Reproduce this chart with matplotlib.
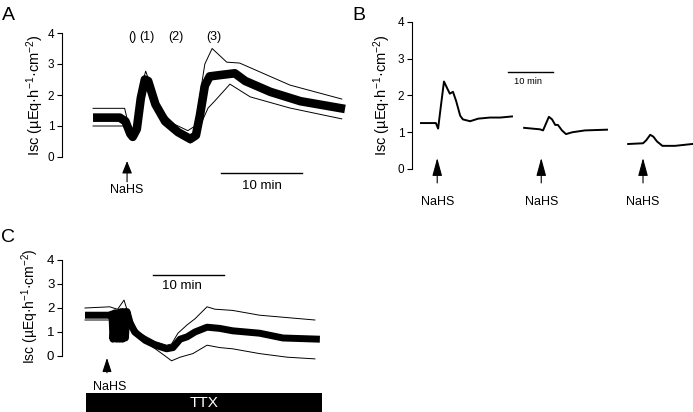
import matplotlib
matplotlib.use("Agg")
import matplotlib.pyplot as plt
from matplotlib.patches import Rectangle

plt.rcParams['font.family'] = ['Liberation Sans', 'DejaVu Sans']
plt.rcParams['mathtext.default'] = 'regular'

# ---------------- data (time in min, Isc in uEq/h/cm2) ----------------
a_mean_t = [0.0, 3.3, 4.0, 4.6, 4.9, 5.4, 5.9, 6.4, 6.8, 7.7, 8.9, 10.5, 12.0, 12.7, 13.2, 13.8, 14.4, 15.9, 17.5, 18.8, 21.9, 25.6, 31.1]
a_mean_v = [1.27, 1.27, 1.15, 0.75, 0.65, 0.9, 1.9, 2.5, 2.45, 1.7, 1.15, 0.8, 0.58, 0.7, 1.35, 2.3, 2.6, 2.65, 2.7, 2.45, 2.1, 1.8, 1.55]
a_up_t = [0.0, 3.9, 4.6, 5.0, 5.6, 6.0, 6.5, 7.0, 8.3, 10.1, 11.7, 12.6, 13.2, 13.8, 14.7, 16.5, 18.1, 24.3, 30.7]
a_up_v = [1.57, 1.57, 0.8, 0.62, 1.2, 2.3, 2.77, 2.4, 1.5, 1.05, 0.85, 1.0, 2.0, 3.0, 3.5, 3.06, 3.03, 2.32, 1.87]
a_lo_t = [0.0, 3.9, 4.6, 5.0, 5.6, 6.0, 6.5, 7.0, 8.3, 10.1, 12.0, 12.7, 13.2, 14.2, 15.0, 16.9, 19.4, 24.3, 30.7]
a_lo_v = [1.0, 1.0, 0.7, 0.6, 0.85, 1.8, 2.5, 2.2, 1.35, 0.85, 0.45, 0.6, 1.0, 1.58, 1.8, 2.35, 1.94, 1.58, 1.23]
a_phase_labels = ['()', '(1)', '(2)', '(3)']
a_phase_t = [4.9, 6.6, 10.2, 14.9]

b1_t = [0.0, 3.3, 3.8, 4.4, 5.1, 5.8, 6.4, 7.1, 7.8, 8.7, 9.3, 10.9, 12.7, 15.3, 17.6, 20.2]
b1_v = [1.25, 1.25, 1.1, 1.7, 2.38, 2.2, 2.05, 2.1, 1.85, 1.45, 1.35, 1.3, 1.37, 1.4, 1.4, 1.43]
b2_t = [22.9, 26.4, 27.1, 27.8, 28.4, 29.1, 29.8, 30.4, 31.3, 32.2, 33.6, 36.4, 41.3]
b2_v = [1.12, 1.08, 1.05, 1.25, 1.42, 1.35, 1.2, 1.2, 1.05, 0.95, 1.0, 1.05, 1.07]
b3_t = [46.0, 49.3, 50.0, 50.9, 51.6, 52.4, 53.6, 56.4, 60.2]
b3_v = [0.68, 0.7, 0.78, 0.93, 0.88, 0.75, 0.63, 0.63, 0.68]
b_arrow_t = [3.6, 26.7, 49.3]

c_mean_t = [0.0, 3.5, 3.8, 3.94, 4.23, 4.44, 4.65, 4.86, 5.07, 5.28, 5.49, 5.70, 5.92, 6.34, 7.0, 8.5, 9.9, 11.5, 12.4, 13.4, 14.4, 15.5, 17.2, 19.0, 20.8, 24.6, 27.9, 33.1]
c_mean_v = [1.7, 1.7, 1.75, 0.7, 1.8, 0.7, 1.8, 0.7, 1.85, 0.7, 1.85, 0.75, 1.85, 1.4, 1.0, 0.65, 0.45, 0.3, 0.35, 0.7, 0.8, 1.0, 1.2, 1.15, 1.05, 0.95, 0.75, 0.7]
c_up_t = [0.0, 3.5, 4.0, 4.6, 5.5, 5.9, 6.6, 7.7, 9.9, 11.5, 12.2, 13.1, 14.4, 15.5, 17.2, 18.3, 20.8, 24.6, 28.5, 32.4]
c_up_v = [2.0, 2.05, 2.0, 1.95, 2.33, 1.95, 1.4, 0.95, 0.6, 0.45, 0.5, 0.95, 1.3, 1.55, 2.05, 1.95, 1.9, 1.7, 1.6, 1.5]
c_lo_t = [0.0, 3.5, 3.8, 6.3, 7.7, 9.9, 11.3, 12.2, 13.4, 15.2, 17.2, 19.0, 20.8, 24.6, 28.5, 32.4]
c_lo_v = [1.5, 1.5, 1.4, 1.2, 0.8, 0.3, 0.0, -0.2, -0.05, 0.1, 0.45, 0.35, 0.3, 0.1, -0.05, -0.12]

yticks = [0, 1, 2, 3, 4]
ylabel = 'Isc (µEq·h$^{-1}$·cm$^{-2}$)'

W, H = 693, 412
fig = plt.figure(figsize=(W / 100, H / 100), dpi=100)


def add_ax(left, right, top, bottom):
    return fig.add_axes([left / W, 1 - bottom / H, (right - left) / W, (bottom - top) / H])


def style(ax, xlim, tsize):
    ax.set_xlim(*xlim)
    ax.set_ylim(0, 4)
    for s in ['top', 'right', 'bottom']:
        ax.spines[s].set_visible(False)
    ax.spines['left'].set_linewidth(0.8)
    ax.set_xticks([])
    ax.set_yticks(yticks)
    ax.tick_params(axis='y', length=3.5, width=0.8, pad=2, labelsize=tsize)
    ax.patch.set_alpha(0)


def arrow(ax, x, ytip, ytail, hl=0.75, hw=0.3):
    ax.annotate('', xy=(x, ytip), xytext=(x, ytail), xycoords='data',
                annotation_clip=False,
                arrowprops=dict(arrowstyle=f'-|>,head_length={hl},head_width={hw}',
                                lw=0.8, color='k', shrinkA=0, shrinkB=0,
                                mutation_scale=10))

# ---------------- Panel A ----------------
axA = add_ax(62, 345, 33, 157)
style(axA, (-3.83, 31.1), 8.5)
axA.plot(a_up_t, a_up_v, color='k', lw=0.7, clip_on=False)
axA.plot(a_lo_t, a_lo_v, color='k', lw=0.7, clip_on=False)
axA.plot(a_mean_t, a_mean_v, color='k', lw=6.2, solid_capstyle='butt', clip_on=False)
for lab, t in zip(a_phase_labels, a_phase_t):
    axA.text(t, 3.87, lab, ha='center', va='center', fontsize=9)
arrow(axA, 4.2, -0.13, -0.8)
axA.text(4.2, -1.08, 'NaHS', ha='center', va='center', fontsize=9)
axA.plot([15.8, 25.8], [-0.52, -0.52], color='k', lw=1, clip_on=False)
axA.text(20.8, -0.92, '10 min', ha='center', va='center', fontsize=9.5)
fig.text(35 / W, 1 - 95 / H, ylabel, rotation=90, ha='center', va='center', fontsize=10.5)
fig.text(8 / W, 1 - 15 / H, 'A', ha='center', va='center', fontsize=14)

# ---------------- Panel B ----------------
axB = add_ax(412, 693, 22, 169)
style(axB, (-2.0, 60.4), 8.5)
for tt, vv in [(b1_t, b1_v), (b2_t, b2_v), (b3_t, b3_v)]:
    axB.plot(tt, vv, color='k', lw=1.4, clip_on=False)
for t in b_arrow_t:
    arrow(axB, t, 0.3, -0.38, hl=1.1, hw=0.3)
    axB.text(t, -0.9, 'NaHS', ha='center', va='center', fontsize=9)
axB.plot([19.3, 29.3], [2.64, 2.64], color='k', lw=1, clip_on=False)
axB.text(23.8, 2.37, '10 min', ha='center', va='center', fontsize=6.7)
fig.text(382 / W, 1 - 95 / H, ylabel, rotation=90, ha='center', va='center', fontsize=10.5)
fig.text(359 / W, 1 - 15 / H, 'B', ha='center', va='center', fontsize=14)

# ---------------- Panel C ----------------
axC = add_ax(62, 322, 260, 356)
style(axC, (-3.24, 33.4), 9.5)
axC.plot(c_up_t, c_up_v, color='k', lw=0.7, clip_on=False)
axC.plot(c_lo_t, c_lo_v, color='k', lw=0.7, clip_on=False)
axC.plot(c_mean_t, c_mean_v, color='k', lw=5, solid_capstyle='butt', clip_on=False)
arrow(axC, 3.1, -0.08, -0.7, hl=0.85, hw=0.28)
axC.text(3.5, -1.3, 'NaHS', ha='center', va='center', fontsize=9)
axC.plot([9.6, 19.6], [3.375, 3.375], color='k', lw=1, clip_on=False)
axC.text(13.7, 2.92, '10 min', ha='center', va='center', fontsize=9.5)
axC.add_patch(Rectangle((0.14, -2.4), 33.26, 0.86, facecolor='k', edgecolor='none', clip_on=False))
axC.text(16.8, -1.96, 'TTX', ha='center', va='center', fontsize=11, color='white')
fig.text(30 / W, 1 - 306 / H, ylabel, rotation=90, ha='center', va='center', fontsize=10)
fig.text(8 / W, 1 - 238 / H, 'C', ha='center', va='center', fontsize=14)

fig.savefig('out.png', dpi=100)
